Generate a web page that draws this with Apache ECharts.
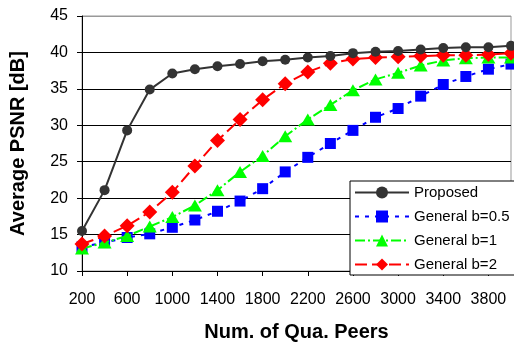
<!DOCTYPE html>
<html>
<head>
<meta charset="utf-8">
<title>Average PSNR vs Num. of Qua. Peers</title>
<script src="https://cdn.jsdelivr.net/npm/echarts@6/dist/echarts.min.js"></script>
<style>
  html, body { margin: 0; padding: 0; background: #fff; }
  #chart { width: 514px; height: 347px; }
</style>
</head>
<body>
<div id="chart"></div>
<script>
  // x categories (number of qualified peers)
  var peers = ['200', '400', '600', '800', '1000', '1200', '1400', '1600', '1800', '2000',
    '2200', '2400', '2600', '2800', '3000', '3200', '3400', '3600', '3800', '4000'];

  // PSNR values
  var proposed = [15.5, 21.1, 29.3, 34.9, 37.1, 37.7, 38.1, 38.4, 38.8, 39.0,
    39.3, 39.5, 39.9, 40.1, 40.2, 40.4, 40.6, 40.7, 40.7, 40.9];
  var generalB05 = [13.3, 13.9, 14.6, 15.1, 16.0, 17.0, 18.2, 19.6, 21.3, 23.6,
    25.6, 27.5, 29.3, 31.1, 32.3, 34.0, 35.6, 36.7, 37.7, 38.4];
  var generalB1 = [13.1, 13.9, 14.8, 16.1, 17.4, 19.0, 21.1, 23.6, 25.8, 28.5,
    30.8, 32.8, 34.8, 36.3, 37.2, 38.2, 38.9, 39.2, 39.3, 39.3];
  var generalB2 = [13.7, 14.8, 16.2, 18.1, 20.8, 24.4, 27.9, 30.8, 33.5, 35.7,
    37.3, 38.5, 39.1, 39.3, 39.4, 39.5, 39.6, 39.6, 39.7, 39.9];

  var font = '"Liberation Sans", Arial, sans-serif';

  var chart = echarts.init(document.getElementById('chart'));

  var option = {
    animation: false,
    backgroundColor: '#fff',
    textStyle: { fontFamily: font, color: '#000' },
    grid: {
      left: 78,
      right: 3,
      top: 16,
      bottom: 71,
      show: true,
      borderColor: '#999',
      borderWidth: 1
    },
    legend: {
      orient: 'vertical',
      left: 350,
      top: 181,
      itemWidth: 54,
      itemHeight: 15,
      itemGap: 9,
      padding: [4, 6, 3, 4],
      backgroundColor: '#fff',
      borderColor: '#000',
      borderWidth: 1,
      textStyle: { fontFamily: font, fontSize: 15, color: '#000', lineHeight: 15 },
      data: ['Proposed', 'General b=0.5', 'General b=1', 'General b=2']
    },
    xAxis: {
      type: 'category',
      data: peers,
      boundaryGap: false,
      name: 'Num. of Qua. Peers',
      nameLocation: 'middle',
      nameGap: 51,
      nameTextStyle: { fontFamily: font, fontSize: 20, fontWeight: 'bold', color: '#000' },
      axisLine: { lineStyle: { color: '#000', width: 1 } },
      axisTick: { show: true, interval: 1, length: 5, lineStyle: { color: '#000' } },
      axisLabel: { interval: 1, fontSize: 16, color: '#000', margin: 21 },
      splitLine: { show: false }
    },
    yAxis: {
      type: 'value',
      min: 10,
      max: 45,
      interval: 5,
      name: 'Average PSNR [dB]',
      nameLocation: 'middle',
      nameGap: 54,
      nameTextStyle: { fontFamily: font, fontSize: 20, fontWeight: 'bold', color: '#000' },
      axisLine: { show: true, lineStyle: { color: '#000', width: 1 } },
      axisTick: { show: true, length: 5, lineStyle: { color: '#000' } },
      axisLabel: { fontSize: 16, color: '#000', margin: 14 },
      splitLine: {
        show: true,
        lineStyle: { color: ['#000', '#000', '#000', '#000', '#000', '#000', '#000', '#999'], width: 1 }
      }
    },
    series: [
      {
        name: 'Proposed',
        type: 'line',
        data: proposed,
        symbol: 'circle',
        symbolSize: 10,
        showAllSymbol: true,
        itemStyle: { color: '#333' },
        lineStyle: { color: '#333', width: 2 },
        z: 5
      },
      {
        name: 'General b=0.5',
        type: 'line',
        data: generalB05,
        symbol: 'rect',
        symbolSize: 11,
        showAllSymbol: true,
        itemStyle: { color: '#0000ff' },
        lineStyle: { color: '#0000ff', width: 2, type: [4, 6] },
        z: 2
      },
      {
        name: 'General b=1',
        type: 'line',
        data: generalB1,
        symbol: 'triangle',
        symbolSize: [14, 12],
        showAllSymbol: true,
        itemStyle: { color: '#00ff00' },
        lineStyle: { color: '#00ff00', width: 2, type: [10, 3, 2, 3] },
        z: 3
      },
      {
        name: 'General b=2',
        type: 'line',
        data: generalB2,
        symbol: 'diamond',
        symbolSize: 15,
        showAllSymbol: true,
        itemStyle: { color: '#ff0000' },
        lineStyle: { color: '#ff0000', width: 2, type: [12, 5] },
        z: 4
      }
    ]
  };

  chart.setOption(option);
</script>
</body>
</html>
